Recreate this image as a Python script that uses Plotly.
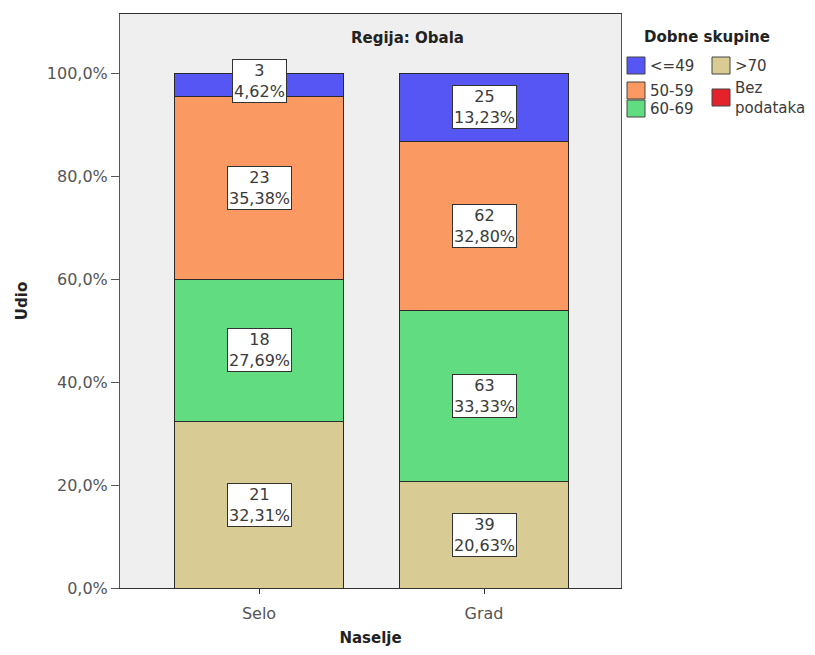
import plotly.graph_objects as go

categories = ["Selo", "Grad"]
groups = [">70", "60-69", "50-59", "<=49"]  # bottom to top
counts_gt70 = [21, 39]
counts_60_69 = [18, 63]
counts_50_59 = [23, 62]
counts_le49 = [3, 25]
counts_bez = [0, 0]
colors = {">70": "#d8cc94", "60-69": "#62dc80", "50-59": "#fa9a62", "<=49": "#5656f4", "Bez podataka": "#e3222c"}
y_tick_vals = [0, 20, 40, 60, 80, 100]
y_tick_text = ["0,0%", "20,0%", "40,0%", "60,0%", "80,0%", "100,0%"]

series = {">70": counts_gt70, "60-69": counts_60_69, "50-59": counts_50_59, "<=49": counts_le49}
totals = [sum(series[g][i] for g in groups) for i in range(len(categories))]

FONT = "DejaVu Sans, Verdana, sans-serif"
OFF = 8  # page body margin
W, H = 799, 639
ml, mt = 120 - OFF, 14 - OFF
mr = W - (621 - OFF)
mb = H - (588 - OFF)
pw, ph = W - ml - mr, H - mt - mb


def px_to_paper(xp, yp):
    # xp, yp are in reference-picture pixels
    return (xp - OFF - ml) / pw, 1 - (yp - OFF - mt) / ph


fig = go.Figure()
annotations = []
cum = [0.0] * len(categories)
for g in groups:
    pct = [series[g][i] / totals[i] * 100 for i in range(len(categories))]
    fig.add_trace(go.Bar(
        x=categories, y=pct, name=g, width=0.75,
        marker=dict(color=colors[g], line=dict(color="#2a2a2a", width=1)),
        showlegend=False, hoverinfo="skip",
    ))
    for i, c in enumerate(categories):
        mid = cum[i] + pct[i] / 2
        txt = f"{series[g][i]}<br>{pct[i]:.2f}%".replace(".", ",")
        annotations.append(dict(
            x=c, y=mid, xref="x", yref="y", text=txt, showarrow=False,
            xanchor="center", yanchor="middle",
            font=dict(family=FONT, size=16, color="#3a3a3a"),
            bgcolor="white", bordercolor="#333333", borderwidth=1, borderpad=1,
            yshift=4 if mid > 97 else 0,
        ))
        cum[i] += pct[i]

# Title inside plot
tx, ty = px_to_paper(407, 38)
annotations.append(dict(x=tx, y=ty, xref="paper", yref="paper", text="<b>Regija: Obala</b>",
                        showarrow=False, xanchor="center", yanchor="middle",
                        font=dict(family=FONT, size=15, color="#222222")))

# Manual legend
shapes = []
lx0, ly0 = px_to_paper(642, 37)
annotations.append(dict(x=lx0, y=ly0, xref="paper", yref="paper", text="<b>Dobne skupine</b>",
                        showarrow=False, xanchor="left", yanchor="middle",
                        font=dict(family=FONT, size=15, color="#222222")))
legend_items = [("<=49", 627, 66), ("50-59", 627, 91), ("60-69", 627, 109),
                (">70", 712, 66), ("Bez podataka", 712, 98)]

for name, lx, ly in legend_items:
    x0, y0 = px_to_paper(lx, ly - 9)
    x1, y1 = px_to_paper(lx + 18, ly + 8)
    shapes.append(dict(type="rect", xref="paper", yref="paper", x0=x0, x1=x1, y0=y1, y1=y0,
                       fillcolor=colors[name], line=dict(color="#444444", width=1)))
    tx, ty = px_to_paper(lx + 21, ly)
    label = "Bez<br>podataka" if name == "Bez podataka" else name
    annotations.append(dict(x=tx, y=ty, xref="paper", yref="paper", text=label, showarrow=False,
                            xanchor="left", yanchor="middle", align="left",
                            font=dict(family=FONT, size=15, color="#3a3a3a")))

fig.update_layout(
    width=W, height=H, barmode="stack",
    margin=dict(l=ml, r=mr, t=mt, b=mb),
    paper_bgcolor="white", plot_bgcolor="#efefef",
    annotations=annotations, shapes=shapes,
    font=dict(family=FONT, size=16, color="#555555"),
)
fig.update_xaxes(range=[-0.618, 1.609], showline=True, linecolor="#333333", linewidth=1, mirror=True,
                 ticks="outside", ticklen=5, tickcolor="#333333", showgrid=False,
                 ticklabelstandoff=6, automargin=False,
                 tickfont=dict(family=FONT, size=16, color="#555555"),
                 title=dict(text="<b>Naselje</b>", font=dict(family=FONT, size=15, color="#222222"), standoff=10))
fig.update_yaxes(range=[0, 111.46], showline=True, linecolor="#555555", linewidth=1, mirror=True,
                 tickvals=y_tick_vals, ticktext=y_tick_text, ticks="outside", ticklen=8, tickcolor="#555555",
                 showgrid=False, zeroline=False, automargin=False,
                 tickfont=dict(family=FONT, size=16, color="#555555"),
                 title=dict(text="<b>Udio</b>", font=dict(family=FONT, size=15, color="#222222"), standoff=15))

fig.write_html("out.html")
